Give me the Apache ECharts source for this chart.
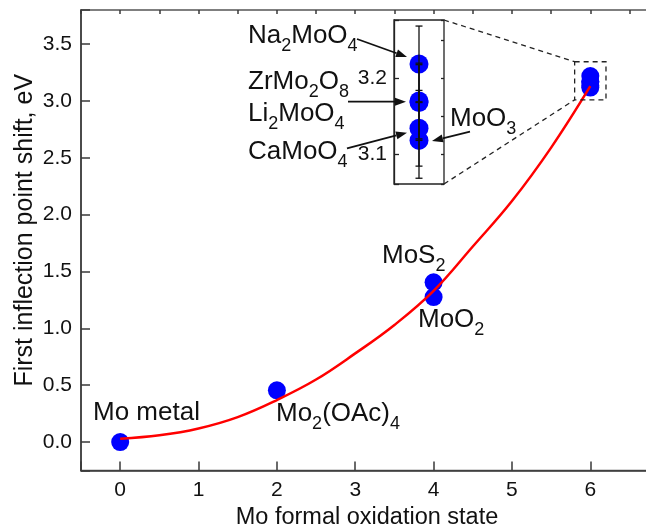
<!DOCTYPE html>
<html>
<head>
<meta charset="utf-8">
<script src="https://cdn.jsdelivr.net/npm/echarts@6/dist/echarts.min.js"></script>
<style>
  html, body { margin: 0; padding: 0; background: #ffffff; }
  #chart { width: 646px; height: 524px; }
</style>
</head>
<body>
<div id="chart"></div>
<script>
// Reference compounds: Mo formal oxidation state vs. first inflection point shift (eV)
const refNames = ['Mo metal', 'Mo2(OAc)4', 'MoS2', 'MoO2'];
const refOxState = [0, 2, 4, 4];
const refShift = [0.0, 0.455, 1.405, 1.275];

// Mo(VI) compounds (shown enlarged in the inset)
const hexNames = ['Na2MoO4', 'ZrMo2O8', 'Li2MoO4', 'CaMoO4', 'MoO3'];
const hexOxState = [6, 6, 6, 6, 6];
const hexShift = [3.219, 3.170, 3.168, 3.134, 3.118];
const hexError = [0.05, 0.05, 0.05, 0.05, 0.05];

// Fitted trend curve
const fitX = [0, 0.5, 1, 1.5, 2, 2.5, 3, 3.5, 4, 4.5, 5, 5.5, 6];
const fitY = [0.03, 0.06, 0.12, 0.22, 0.37, 0.55, 0.78, 1.03, 1.33, 1.72, 2.12, 2.59, 3.13];

// Tick labels
const xTickValues = [0, 1, 2, 3, 4, 5, 6];
const yTickValues = [0, 0.5, 1.0, 1.5, 2.0, 2.5, 3.0, 3.5];
const insetTickValues = [3.1, 3.2];

const FONT = '"Liberation Sans", Arial, Helvetica, sans-serif';
const AXIS_COLOR = '#3a3a3a';
const MAIN = { left: 81, top: 10, width: 572, height: 460.5 };
const INSET = { left: 394, top: 20, width: 50, height: 164 };

const near = (list, v) => list.some(t => Math.abs(t - v) < 1e-6);

const chart = echarts.init(document.getElementById('chart'), null, { renderer: 'canvas' });

const mainPoints = refOxState.map((x, i) => [x, refShift[i]])
  .concat(hexOxState.map((x, i) => [x, hexShift[i]]));
const insetPoints = hexOxState.map((x, i) => [x, hexShift[i], hexError[i]]);
const fitLine = fitX.map((x, i) => [x, fitY[i]]);

const majorTick = { show: true, inside: true, length: 9, lineStyle: { color: AXIS_COLOR, width: 1.5 } };
const minorTick = { show: true, inside: true, length: 4, lineStyle: { color: AXIS_COLOR, width: 1.5 } };
const hiddenLine = { show: false, onZero: false };

chart.setOption({
  animation: false,
  backgroundColor: '#ffffff',
  grid: [
    Object.assign({ show: true, borderColor: '#555555', borderWidth: 1.5, containLabel: false, outerBoundsMode: 'none' }, MAIN),
    Object.assign({ show: true, borderColor: '#222222', borderWidth: 1.3, backgroundColor: '#ffffff', containLabel: false, outerBoundsMode: 'none', z: 5 }, INSET)
  ],
  xAxis: [
    {
      gridIndex: 0, type: 'value', min: -0.5, max: 6.8, minInterval: 1, maxInterval: 1,
      axisLine: { show: true, onZero: false, lineStyle: { color: AXIS_COLOR, width: 1.5 } },
      axisTick: majorTick, splitLine: { show: false },
      axisLabel: {
        show: true, margin: 9, color: '#111', fontSize: 21, fontFamily: FONT,
        formatter: v => near(xTickValues, v) ? String(Math.round(v)) : ''
      },
      name: 'Mo formal oxidation state', nameLocation: 'middle', nameGap: 29,
      nameTextStyle: { color: '#111', fontSize: 23.5, fontFamily: FONT }
    },
    {
      gridIndex: 0, type: 'value', min: -0.5, max: 6.8, minInterval: 0.5, maxInterval: 0.5,
      axisLine: hiddenLine, axisTick: minorTick, axisLabel: { show: false }, splitLine: { show: false }
    },
    {
      gridIndex: 1, type: 'value', min: 5.5, max: 6.5, show: false, axisLine: hiddenLine
    }
  ],
  yAxis: [
    {
      gridIndex: 0, type: 'value', min: -0.25, max: 3.8, minInterval: 0.5, maxInterval: 0.5,
      axisLine: { show: true, onZero: false, lineStyle: { color: AXIS_COLOR, width: 1.5 } },
      axisTick: majorTick, splitLine: { show: false },
      axisLabel: {
        show: true, margin: 9, color: '#111', fontSize: 21, fontFamily: FONT,
        formatter: v => near(yTickValues, v) ? v.toFixed(1) : ''
      },
      name: 'First inflection point shift, eV', nameLocation: 'middle', nameGap: 43,
      nameMoveOverlap: false,
      nameTextStyle: { color: '#111', fontSize: 25, fontFamily: FONT, padding: [0, 0, 0, 20] }
    },
    {
      gridIndex: 0, type: 'value', min: -0.25, max: 3.8, minInterval: 0.25, maxInterval: 0.25,
      axisLine: hiddenLine, axisTick: minorTick, axisLabel: { show: false }, splitLine: { show: false }
    },
    {
      gridIndex: 1, type: 'value', min: 3.0604, max: 3.277, minInterval: 0.1, maxInterval: 0.1,
      axisLine: { show: true, onZero: false, lineStyle: { color: '#222', width: 1.3 } },
      axisTick: { show: true, inside: true, length: 5, lineStyle: { color: '#222', width: 1.3 } },
      splitLine: { show: false },
      axisLabel: {
        show: true, margin: 7, color: '#111', fontSize: 21, fontFamily: FONT,
        formatter: v => near(insetTickValues, v) ? v.toFixed(1) : ''
      },
      z: 6
    },
    {
      gridIndex: 1, type: 'value', min: 3.0604, max: 3.277, minInterval: 0.05, maxInterval: 0.05,
      axisLine: hiddenLine,
      axisTick: { show: true, inside: true, length: 3, lineStyle: { color: '#222', width: 1.3 } },
      axisLabel: { show: false }, splitLine: { show: false }, z: 6
    }
  ],
  series: [
    {
      type: 'scatter', xAxisIndex: 0, yAxisIndex: 0, data: mainPoints,
      symbol: 'circle', symbolSize: 18, itemStyle: { color: '#0000ff', opacity: 1 }, z: 2
    },
    {
      type: 'line', xAxisIndex: 0, yAxisIndex: 0, data: fitLine,
      smooth: 0.4, showSymbol: false, symbol: 'none',
      lineStyle: { color: '#ff0000', width: 2.5 }, z: 3
    },
    {
      type: 'scatter', xAxisIndex: 2, yAxisIndex: 2, data: insetPoints,
      symbol: 'circle', symbolSize: 19, itemStyle: { color: '#0000ff', opacity: 1 }, z: 7
    },
    {
      type: 'custom', xAxisIndex: 2, yAxisIndex: 2, data: insetPoints, z: 8,
      renderItem: (params, api) => {
        const x = api.value(0), y = api.value(1), e = api.value(2);
        const hi = api.coord([x, y + e]);
        const lo = api.coord([x, y - e]);
        const cap = 3.5;
        const st = { stroke: '#111', lineWidth: 1.3 };
        return {
          type: 'group',
          children: [
            { type: 'line', shape: { x1: hi[0], y1: hi[1], x2: lo[0], y2: lo[1] }, style: st },
            { type: 'line', shape: { x1: hi[0] - cap, y1: hi[1], x2: hi[0] + cap, y2: hi[1] }, style: st },
            { type: 'line', shape: { x1: lo[0] - cap, y1: lo[1], x2: lo[0] + cap, y2: lo[1] }, style: st }
          ]
        };
      }
    }
  ]
});

// ---- Annotations: chemical formulas with subscripted digits ----
const measureCtx = document.createElement('canvas').getContext('2d');
function formula(str, x, baseline, size) {
  const subSize = Math.round(size * 0.68);
  const drop = size * 0.27;
  const parts = [];
  for (const ch of str) {
    const sub = /[0-9]/.test(ch);
    if (parts.length && parts[parts.length - 1].sub === sub) parts[parts.length - 1].t += ch;
    else parts.push({ t: ch, sub });
  }
  const els = [];
  let cx = x;
  for (const p of parts) {
    const fs = p.sub ? subSize : size;
    measureCtx.font = fs + 'px ' + FONT;
    const base = baseline + (p.sub ? drop : 0);
    els.push({
      type: 'text', x: cx, y: base - 0.35 * fs, z: 20,
      style: { text: p.t, fontSize: fs, fontFamily: FONT, fill: '#111', align: 'left', verticalAlign: 'middle' }
    });
    cx += measureCtx.measureText(p.t).width;
  }
  return els;
}

function arrow(x1, y1, x2, y2) {
  const ang = Math.atan2(y2 - y1, x2 - x1);
  const len = 11, half = 4;
  const bx = x2 - len * Math.cos(ang), by = y2 - len * Math.sin(ang);
  const px = -Math.sin(ang) * half, py = Math.cos(ang) * half;
  return [
    { type: 'line', z: 20, shape: { x1, y1, x2: bx, y2: by }, style: { stroke: '#111', lineWidth: 1.8 } },
    { type: 'polygon', z: 20, shape: { points: [[x2, y2], [bx + px, by + py], [bx - px, by - py]] }, style: { fill: '#111' } }
  ];
}

const labelSize = 26;
const labelSpots = {
  'Mo metal': [93, 422],
  'Mo2(OAc)4': [276, 423],
  'MoS2': [382, 265],
  'MoO2': [418, 329],
  'Na2MoO4': [248, 45],
  'ZrMo2O8': [248, 91],
  'Li2MoO4': [248, 123],
  'CaMoO4': [248, 161],
  'MoO3': [450, 128]
};

let graphics = [];
refNames.concat(hexNames).forEach(n => {
  const [x, y] = labelSpots[n];
  graphics = graphics.concat(formula(n, x, y, labelSize));
});
graphics = graphics
  .concat(arrow(357, 39, 407, 57))
  .concat(arrow(348, 101.7, 406, 101.7))
  .concat(arrow(347, 148.3, 407, 132.7))
  .concat(arrow(470, 131.7, 432, 141));

// Dashed frame around the Mo(VI) cluster and the connectors to the inset
const boxA = chart.convertToPixel({ gridIndex: 0 }, [5.8, 3.345]);
const boxB = chart.convertToPixel({ gridIndex: 0 }, [6.2, 3.01]);
const dash = { stroke: '#222', lineWidth: 1.3, lineDash: [5, 4], fill: null };
const insetRight = INSET.left + INSET.width;
graphics.push(
  { type: 'rect', z: 20, shape: { x: boxA[0], y: boxA[1], width: boxB[0] - boxA[0], height: boxB[1] - boxA[1] }, style: dash },
  { type: 'line', z: 20, shape: { x1: insetRight, y1: INSET.top, x2: boxA[0], y2: boxA[1] }, style: dash },
  { type: 'line', z: 20, shape: { x1: insetRight, y1: INSET.top + INSET.height, x2: boxA[0], y2: boxB[1] }, style: dash }
);

chart.setOption({ graphic: graphics });
</script>
</body>
</html>
